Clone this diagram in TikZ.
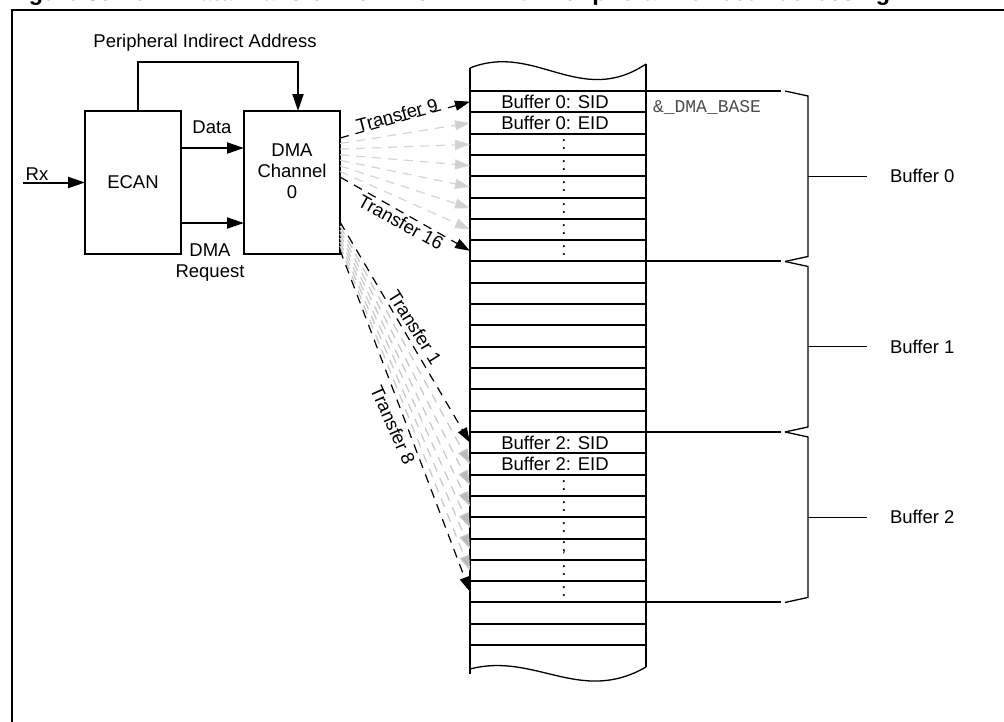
\documentclass[tikz,border=0pt]{standalone}
\usepackage{fontspec}
\setmainfont{Liberation Sans}
\newfontfamily\monofont{Liberation Mono}
\usetikzlibrary{arrows.meta,calc}
\begin{document}
\begin{tikzpicture}[x=1pt,y=-1pt,
  every node/.style={inner sep=0pt, outer sep=0pt, font=\fontsize{18.5}{21}\selectfont},
  blk/.style={draw, line width=2.2pt, minimum width=96pt, minimum height=143pt},
  cell/.style={draw, line width=2pt, minimum width=176pt, minimum height=21.31pt},
  solidarr/.style={line width=2pt, -{Triangle[length=17pt,width=11pt]}},
  blackdash/.style={line width=1.2pt, dash pattern=on 9pt off 7pt, -{Triangle[length=15pt,width=10pt]}},
  greydash/.style={line width=1.2pt, draw=black!17, dash pattern=on 9pt off 7pt, -{Triangle[length=15pt,width=10pt,fill=black!18]}},
  greydashb/.style={line width=1.2pt, draw=black!22, dash pattern=on 9pt off 7pt, -{Triangle[length=15pt,width=10pt,fill=black!28]}},
  bracestyle/.style={line width=1.3pt}
]
\useasboundingbox (0,0) rectangle (1004,721);
\begin{scope}
\clip (0,0) rectangle (1004,721);
% frame and cut title
\draw[line width=2pt] (12,730) -- (12,10) -- (1010,10);
\node[anchor=base west, font=\fontsize{23.5}{25}\selectfont\bfseries] (title) at (8,0.8)
  {Figure 35-16:\hspace{1.2em}Data Transfer from ECAN™ with Peripheral Indirect Addressing};
\end{scope}

% blocks
\node[blk] (ecan) at (133,182.5) {ECAN};
\node[blk] (dma) at (292,182.5) {};
\node[align=center, yshift=11pt] (dmatxt) at (dma.center) {DMA\\Channel\\0};

% input and links
\coordinate (rxin) at (23,182.5);
\draw[solidarr] (rxin) -- (ecan.west);
\node (rx) at (37,174) {Rx};
\draw[solidarr] ($(ecan.east)+(0,-34.5)$) -- ($(dma.west)+(0,-34.5)$);
\node (data) at (212,127) {Data};
\draw[solidarr] ($(ecan.east)+(0,40.5)$) -- ($(dma.west)+(0,40.5)$);
\node[align=center] (req) at (210,263) {DMA\\Request};
\draw[solidarr] ($(ecan.north)+(5,0)$) -- (138,62) -- (298,62) -- ($(dma.north)+(6,0)$);
\node (pia) at (205,43) {Peripheral Indirect Address};

% memory cells
\foreach \i in {0,...,25}
  \node[cell] (r\i) at (558,{91+21.31*(\i+0.5)}) {};
\draw[line width=2pt] (470,68) -- (470,674);
\draw[line width=2pt] (646,64) -- (646,667);
\draw[line width=1.3pt] (470,68) .. controls (535,42) and (580,108) .. (646,64);
\draw[line width=1.3pt] (470,669) .. controls (535,652) and (580,705) .. (646,667);

\node (b0s) at ([xshift=-3pt]r0.center) {Buffer 0: SID};
\node (b0e) at ([xshift=-3pt]r1.center) {Buffer 0: EID};
\node (b2s) at ([xshift=-3pt]r16.center) {Buffer 2: SID};
\node (b2e) at ([xshift=-3pt]r17.center) {Buffer 2: EID};
\foreach \i in {2,...,7,18,19,20,22,23}
  \node (d\i) at ([xshift=6pt]r\i.center) {:};
\node (d21) at ([xshift=6pt,yshift=1pt]r21.center) {;};
\node[anchor=west, font=\fontsize{18}{21}\monofont, text=black!70] (base) at (653,107) {\&\_DMA\_BASE};

% boundary lines and braces
\foreach \c in {0,8,16,24}
  \draw[line width=2pt] (r\c.north east) -- ++(135,0);
\foreach \a/\b/\n in {0/8/0,8/16/1,16/24/2}{
  \pgfmathsetmacro\ya{91+21.31*\a}
  \pgfmathsetmacro\yb{91+21.31*\b}
  \pgfmathsetmacro\ym{(\ya+\yb)/2}
  \draw[bracestyle] (785,\ya) -- (808,\ya+5) -- (808,\yb-5) -- (785,\yb);
  \draw[bracestyle] (808,\ym) -- (867,\ym);
  \node[anchor=west] (lab\n) at (890,\ym) {Buffer \n};
}

% upper fan
\foreach \k in {1,...,6}
  \draw[greydash] ($(dma.east)+(0,{138+5.57*\k-182.5})$) -- (r\k.west);
\draw[blackdash] ($(dma.east)+(0,{138-182.5})$) -- (r0.west);
\draw[blackdash] ($(dma.east)+(0,{177-182.5})$) -- (r7.west);
\node[rotate=15] (t9) at (397,115) {Transfer 9};
\node[rotate=-29] (t16) at (401,222) {Transfer 16};

% lower fan
\foreach \k in {1,...,6}{
  \pgfmathtruncatemacro\rr{16+\k}
  \draw[greydashb] ($(dma.east)+(0,{222+4*\k-182.5})$) -- (r\rr.west);
}
\draw[blackdash] ($(dma.east)+(0,{222-182.5})$) -- (r16.west);
\draw[blackdash] ($(dma.east)+(0,{250-182.5})$) -- (r23.west);
\node[rotate=-58] (t1) at (415,327) {Transfer 1};
\node[rotate=-66] (t8) at (393,425) {Transfer 8};
\end{tikzpicture}
\end{document}
